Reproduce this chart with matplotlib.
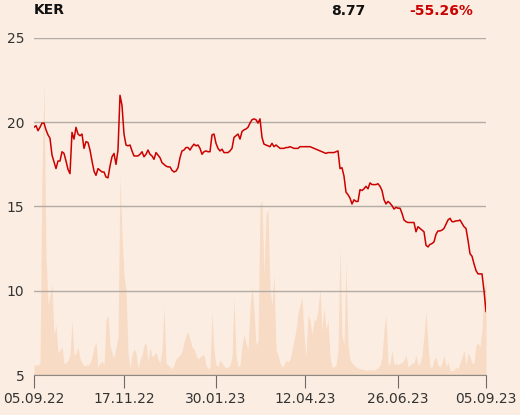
import matplotlib
matplotlib.use('Agg')
import matplotlib.pyplot as plt
import matplotlib.dates as mdates
import numpy as np
import pandas as pd

# daily close, 05.09.22 -> 05.09.23
price = [19.7, 19.8, 19.5, 19.7, 19.95, 19.95, 19.55, 19.25, 19.05, 18.05,
         17.65, 17.25, 17.7, 17.7, 18.25, 18.15, 17.7, 17.2, 16.95, 19.4,
         19.0, 19.7, 19.3, 19.2, 19.3, 18.45, 18.85, 18.8, 18.35, 17.7,
         17.1, 16.85, 17.25, 17.15, 17.05, 17.05, 16.75, 16.7, 17.4, 17.95,
         18.15, 17.5, 18.35, 21.6, 21.0, 19.3, 18.65, 18.6, 18.65, 18.3,
         18.0, 18.0, 18.0, 18.1, 18.25, 17.95, 18.1, 18.35, 18.1, 18.0,
         17.8, 18.2, 18.05, 17.9, 17.6, 17.5, 17.4, 17.35, 17.35, 17.15,
         17.05, 17.1, 17.3, 17.9, 18.3, 18.35, 18.5, 18.5, 18.35, 18.55,
         18.7, 18.6, 18.65, 18.45, 18.1, 18.25, 18.3, 18.25, 18.25, 19.25,
         19.3, 18.75, 18.45, 18.3, 18.4, 18.2, 18.2, 18.2, 18.3, 18.45,
         19.1, 19.2, 19.3, 19.0, 19.45, 19.55, 19.6, 19.7, 19.95, 20.15,
         20.2, 20.15, 19.95, 20.2, 19.1, 18.7, 18.65, 18.6, 18.55, 18.75,
         18.55, 18.65, 18.55, 18.45, 18.45, 18.45, 18.5, 18.5, 18.55, 18.5,
         18.45, 18.45, 18.45, 18.55, 18.55, 18.55, 18.55, 18.55, 18.55, 18.5,
         18.45, 18.4, 18.35, 18.3, 18.25, 18.2, 18.15, 18.2, 18.2, 18.2,
         18.2, 18.25, 18.3, 17.25, 17.3, 16.8, 15.85, 15.7, 15.5, 15.15,
         15.4, 15.3, 15.3, 16.0, 15.95, 16.05, 16.2, 16.05, 16.4, 16.3,
         16.3, 16.3, 16.35, 16.2, 15.95, 15.4, 15.15, 15.3, 15.2, 15.05,
         14.85, 14.95, 14.9, 14.9, 14.6, 14.2, 14.1, 14.05, 14.05, 14.05,
         14.05, 13.5, 13.8, 13.7, 13.6, 13.5, 12.7, 12.6, 12.75, 12.8,
         12.9, 13.35, 13.55, 13.55, 13.6, 13.7, 13.95, 14.2, 14.3, 14.1,
         14.1, 14.15, 14.15, 14.2, 14.0, 13.8, 13.7, 13.0, 12.2, 12.05,
         11.6, 11.2, 11.0, 11.0, 11.0, 10.0, 8.77]

# traded volume (arbitrary units)
volume = [10, 10, 10, 12, 200, 292, 120, 70, 80, 90,
          40, 50, 22, 25, 28, 12, 12, 15, 20, 54,
          20, 22, 28, 17, 12, 9, 10, 10, 12, 18,
          28, 33, 7, 12, 14, 10, 55, 60, 30, 22,
          17, 28, 38, 200, 140, 100, 85, 22, 7, 20,
          26, 22, 7, 15, 20, 30, 32, 13, 28, 18,
          20, 23, 16, 12, 25, 68, 12, 10, 8, 6,
          10, 16, 18, 20, 24, 33, 40, 43, 36, 28,
          26, 20, 16, 18, 20, 20, 10, 6, 8, 63,
          25, 10, 9, 15, 12, 9, 7, 8, 10, 18,
          77, 20, 8, 10, 30, 40, 32, 25, 68, 88,
          65, 30, 34, 170, 175, 100, 160, 165, 85, 70,
          100, 25, 20, 12, 8, 10, 15, 13, 15, 25,
          35, 45, 62, 70, 78, 40, 18, 60, 55, 40,
          55, 55, 65, 87, 45, 68, 45, 55, 18, 8,
          8, 10, 25, 128, 40, 30, 112, 30, 15, 12,
          10, 8, 7, 6, 6, 5, 5, 5, 5, 5,
          5, 6, 7, 10, 18, 45, 60, 10, 12, 25,
          10, 12, 10, 12, 12, 15, 20, 8, 10, 12,
          12, 20, 10, 12, 20, 40, 63, 30, 8, 8,
          15, 18, 10, 8, 12, 20, 8, 13, 5, 4,
          5, 8, 6, 12, 18, 25, 10, 22, 18, 12,
          12, 30, 32, 28, 45, 85, 95]

tick_dates = ['2022-09-05', '2022-11-17', '2023-01-30', '2023-04-12',
              '2023-06-26', '2023-09-05']
yticks = [5, 10, 15, 20, 25]

start = pd.Timestamp(tick_dates[0])
end = pd.Timestamp(tick_dates[-1])
span = (end - start)
x_price = [start + span * f for f in np.linspace(0, 1, len(price))]
x_vol = [start + span * f for f in np.linspace(0, 1, len(volume))]

bg = '#fbede1'
fig = plt.figure(figsize=(5.2, 4.15), dpi=100, facecolor=bg)
ax = fig.add_axes([34/520, 40/415, 452/520, 337/415])
ax.set_facecolor(bg)

# volume in the background
ax2 = ax.twinx()
ax2.fill_between(x_vol, 0, volume, color='#f8dbc5', lw=0)
ax2.set_ylim(0, 337)
ax2.axis('off')
ax.set_zorder(ax2.get_zorder() + 1)
ax.patch.set_visible(False)
fig.patches.append(plt.Rectangle((34/520, 40/415), 452/520, 337/415,
                                 transform=fig.transFigure, color=bg, zorder=-1))

ax.plot(x_price, price, color='#cc0000', lw=1.1)

ax.set_xlim(start, end)
ax.set_ylim(5, 25)
ax.set_yticks(yticks)
ax.grid(axis='y', color='#b3aca6', lw=1)
ax.set_xticks([pd.Timestamp(d) for d in tick_dates])
ax.xaxis.set_major_formatter(mdates.DateFormatter('%d.%m.%y'))
for s in ['top', 'right', 'left']:
    ax.spines[s].set_visible(False)
ax.spines['bottom'].set_color('#8f8984')
ax.tick_params(axis='y', length=0, pad=7, labelsize=10, labelcolor='#333333')
ax.tick_params(axis='x', length=9, color='#6f6a66', pad=3, labelsize=10,
               labelcolor='#333333')

fig.text(34/520, 1 - 10/415, 'KER', fontsize=10, fontweight='bold',
         va='center', ha='left', color='#111111')
fig.text(365/520, 1 - 11/415, '8.77', fontsize=10, fontweight='bold',
         va='center', ha='right', color='#111111')
fig.text(473/520, 1 - 11/415, '-55.26%', fontsize=10, fontweight='bold',
         va='center', ha='right', color='#cc0000')

fig.savefig('out.png', dpi=100, facecolor=bg)
